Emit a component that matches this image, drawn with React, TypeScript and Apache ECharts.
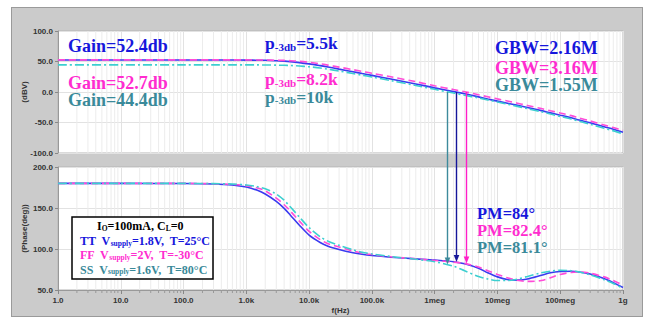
import React, { useEffect, useRef } from 'react';
import * as echarts from 'echarts';

// ---------------- data ----------------
const freqHz = [1, 10, 100, 300, 600, 1e3, 1.5e3, 2e3, 3e3, 4e3, 5e3, 7e3, 1e4, 1.5e4, 2e4, 3e4, 5e4, 7e4, 1e5, 2e5, 5e5, 1e6, 2e6, 3e6, 5e6, 7e6, 1e7, 1.5e7, 2e7, 3e7, 5e7, 7e7, 1e8, 1.5e8, 2e8, 3e8, 5e8, 7e8, 1e9];

const gainTT = [52.4, 52.4, 52.4, 52.4, 52.4, 52.3, 52.1, 52.0, 51.3, 50.6, 49.8, 48.2, 46.1, 43.2, 41.0, 37.5, 33.2, 30.3, 27.3, 21.3, 13.2, 6.8, 0.6, -3.0, -8.0, -11.5, -15.0, -18.8, -21.5, -25.3, -30.5, -34.2, -38.0, -42.2, -46.0, -50.5, -57.0, -61.0, -66.0];
const gainFF = [52.7, 52.7, 52.7, 52.7, 52.7, 52.6, 52.5, 52.4, 52.1, 51.8, 51.3, 50.3, 48.7, 46.3, 44.1, 40.8, 36.6, 33.7, 30.8, 24.9, 16.9, 10.2, 4.0, 0.5, -4.5, -7.8, -11.3, -15.2, -18.0, -22.0, -27.2, -30.8, -34.5, -38.7, -42.5, -47.5, -54.0, -58.3, -63.0];
const gainSS = [44.4, 44.4, 44.4, 44.4, 44.4, 44.4, 44.4, 44.3, 44.0, 43.8, 43.4, 42.6, 41.3, 39.4, 37.4, 34.4, 30.3, 27.6, 24.6, 18.7, 10.8, 4.4, -1.7, -5.3, -9.8, -13.0, -16.5, -20.3, -23.2, -27.3, -32.5, -36.2, -40.0, -44.3, -48.0, -53.0, -59.5, -63.7, -68.5];

const phaseTT = [180, 180, 179.8, 179.3, 178, 175.5, 171.5, 167, 158, 149.5, 141.5, 129, 117, 108, 103.5, 99.5, 95.5, 93.5, 92, 90, 88, 86.5, 84.5, 82, 76.5, 71, 66, 62.5, 62, 63.5, 68, 71, 72.5, 72.8, 72, 69.5, 64, 59, 53];
const phaseFF = [180, 180, 180, 179.6, 178.8, 177.3, 174.5, 171, 162, 154, 146.5, 134, 121.5, 111.5, 106.5, 102.5, 97.5, 95, 93.2, 90.5, 88, 86, 84, 82.5, 78, 73.5, 69, 64.5, 62, 60.5, 61.5, 65, 69, 71.5, 72, 70.5, 66, 61.5, 56];
const phaseSS = [180, 180, 180, 179.7, 179.2, 178, 176, 173.5, 167, 159.5, 151.5, 139, 126, 115, 109.5, 104.5, 99, 96, 94, 90.8, 87.5, 84.5, 79, 73.5, 66.5, 63.5, 61.5, 61.5, 63, 66.5, 71, 73, 74, 73.5, 72, 68.5, 62.5, 58, 52];

const xTickLabels = ['1.0', '10.0', '100.0', '1.0k', '10.0k', '100.0k', '1meg', '10meg', '100meg', '1g'];

const corners = ['TT', 'FF', 'SS'];
const gbwHz = [2.16e6, 3.16e6, 1.55e6];
const gbwText = ['2.16M', '3.16M', '1.55M'];
const pmDeg = [84, 82.4, 81.1];
const pmText = ['84°', '82.4°', '81.1°'];
const gainText = ['52.4db', '52.7db', '44.4db'];
const p3dbText = ['5.5k', '8.2k', '10k'];
const supplyText = ['1.8V', '2V', '1.6V'];
const tempText = ['25°C', '-30°C', '80°C'];

// ---------------- styles ----------------
const textColors = ['#1616dc', '#ff2ccf', '#3a8a9a'];
const curveColors = ['#3a3af0', '#ff4cd8', '#3ccfd0'];
const arrowColors = ['#16169a', '#ff1ec8', '#3d8a9c'];
const lineTypes: any[] = ['solid', [7, 4], [9, 3, 2, 3]];

const SERIF = '"Liberation Serif", "Times New Roman", serif';
const SANS = '"Liberation Sans", Arial, sans-serif';

export default function App() {
  const ref = useRef<HTMLDivElement>(null);

  useEffect(() => {
    document.body.style.margin = '0';
    const chart = echarts.init(ref.current as HTMLDivElement, null, { renderer: 'svg', width: 646, height: 322 });

    const axisLabelStyle = { fontSize: 8, fontWeight: 'bold', color: '#333', fontFamily: SANS };
    const gridLine = { show: true, lineStyle: { color: '#e2e2e2', width: 1 } };

    const series: any[] = [];
    [gainTT, gainFF, gainSS].forEach((ys, i) => {
      series.push({
        name: 'gain ' + corners[i], type: 'line', xAxisIndex: 0, yAxisIndex: 0,
        data: freqHz.map((f, k) => [f, ys[k]]),
        showSymbol: false, symbol: 'none', smooth: 0.3, silent: true, z: 3,
        lineStyle: { color: curveColors[i], width: 1.6, type: lineTypes[i] },
      });
    });
    [phaseTT, phaseFF, phaseSS].forEach((ys, i) => {
      series.push({
        name: 'phase ' + corners[i], type: 'line', xAxisIndex: 1, yAxisIndex: 1,
        data: freqHz.map((f, k) => [f, ys[k]]),
        showSymbol: false, symbol: 'none', smooth: 0.3, silent: true, z: 3,
        lineStyle: { color: curveColors[i], width: 1.6, type: lineTypes[i] },
      });
    });

    const nameStyle = { fontSize: 8, fontWeight: 'bold', color: '#333', fontFamily: SANS };
    const option: any = {
      animation: false,
      textStyle: { fontFamily: SANS },
      grid: [
        { left: 58, top: 31, width: 565, height: 122, show: true, backgroundColor: '#fff', borderColor: '#b4b4b4', borderWidth: 1 },
        { left: 58, top: 167, width: 565, height: 123, show: true, backgroundColor: '#fff', borderColor: '#b4b4b4', borderWidth: 1 },
      ],
      xAxis: [
        {
          type: 'log', logBase: 10, gridIndex: 0, min: 1, max: 1e9, splitNumber: 9,
          axisLabel: { show: false }, axisTick: { show: false }, axisLine: { show: false }, splitLine: gridLine,
        },
        {
          type: 'log', logBase: 10, gridIndex: 1, min: 1, max: 1e9, splitNumber: 9,
          axisLabel: {
            ...axisLabelStyle, margin: 6,
            formatter: (v: number) => xTickLabels[Math.round(Math.log10(v))] ?? '',
          },
          axisTick: { show: true, length: 4, lineStyle: { color: '#888' } },
          axisLine: { show: true, lineStyle: { color: '#999' } },
          splitLine: gridLine,
          name: 'f(Hz)', nameLocation: 'middle', nameGap: 16, nameMoveOverlap: false, nameTextStyle: nameStyle,
        },
      ],
      yAxis: [
        {
          type: 'value', gridIndex: 0, min: -100, max: 100, interval: 50,
          axisLabel: { ...axisLabelStyle, margin: 5, formatter: (v: number) => v.toFixed(1) },
          axisTick: { show: true, length: 3, lineStyle: { color: '#888' } },
          axisLine: { show: true, lineStyle: { color: '#999' } },
          splitLine: gridLine,
          name: '(dBV)', nameLocation: 'middle', nameGap: 30, nameMoveOverlap: false, nameTextStyle: nameStyle,
        },
        {
          type: 'value', gridIndex: 1, min: 50, max: 200, interval: 50,
          axisLabel: { ...axisLabelStyle, margin: 5, formatter: (v: number) => v.toFixed(1) },
          axisTick: { show: true, length: 3, lineStyle: { color: '#888' } },
          axisLine: { show: true, lineStyle: { color: '#999' } },
          splitLine: gridLine,
          name: '(Phase(deg))', nameLocation: 'middle', nameGap: 30, nameMoveOverlap: false, nameTextStyle: nameStyle,
        },
      ],
      series,
    };
    chart.setOption(option);

    const px = (f: number, v: number, gi: number) => chart.convertToPixel({ gridIndex: gi } as any, [f, v]) as number[];

    const graphics: any[] = [];
    // minor log grid lines & ticks
    for (let k = 0; k < 9; k++) {
      for (let m = 2; m <= 9; m++) {
        const f = m * Math.pow(10, k);
        const a0 = px(f, 100, 0), b0 = px(f, -100, 0);
        const a1 = px(f, 200, 1), b1 = px(f, 50, 1);
        graphics.push({ type: 'line', z: 1, silent: true, shape: { x1: a0[0], y1: a0[1], x2: b0[0], y2: b0[1] }, style: { stroke: '#ececec', lineWidth: 1 } });
        graphics.push({ type: 'line', z: 1, silent: true, shape: { x1: a1[0], y1: a1[1], x2: b1[0], y2: b1[1] }, style: { stroke: '#ececec', lineWidth: 1 } });
        graphics.push({ type: 'line', z: 1, silent: true, shape: { x1: b1[0], y1: b1[1], x2: b1[0], y2: b1[1] + 3 }, style: { stroke: '#999', lineWidth: 1 } });
      }
    }
    // arrows GBW -> PM
    corners.forEach((_, i) => {
      const top = px(gbwHz[i], 0, 0);
      const bot = px(gbwHz[i], pmDeg[i], 1);
      const x = Math.round(top[0]) + 0.5;
      graphics.push({ type: 'line', z: 8, silent: true, shape: { x1: x, y1: top[1], x2: x, y2: bot[1] - 5 }, style: { stroke: arrowColors[i], lineWidth: 1.4 } });
      graphics.push({ type: 'polygon', z: 8, silent: true, shape: { points: [[x - 2.8, bot[1] - 7], [x + 2.8, bot[1] - 7], [x, bot[1]]] }, style: { fill: arrowColors[i] } });
    });

    const big = (color: string, size = 18) => ({ fill: color, color, fontFamily: SERIF, fontWeight: 'bold', fontSize: size });
    const plain = (x: number, y: number, text: string, color: string, size = 18) => ({
      type: 'text', z: 20, silent: true, x, y,
      style: { text, ...big(color, size), lineHeight: 15, align: 'left', verticalAlign: 'middle' },
    });
    const gainY = [45.5, 82.5, 100];
    const pY = [44.5, 80.5, 98];
    const gbwY = [47.5, 67.5, 85];
    const pmY = [213.5, 230.5, 247];
    corners.forEach((_, i) => {
      const c = textColors[i];
      graphics.push(plain(68, gainY[i], 'Gain=' + gainText[i], c));
      graphics.push({
        type: 'text', z: 20, silent: true, x: 265, y: pY[i],
        style: {
          text: '{a|p}{b|-3db}{a|=' + p3dbText[i] + '}', align: 'left', verticalAlign: 'middle',
          rich: {
            a: { ...big(c, 17.5), lineHeight: 15, verticalAlign: 'bottom' },
            b: { fill: c, color: c, fontFamily: SERIF, fontWeight: 'bold', fontSize: 11, lineHeight: 9, verticalAlign: 'bottom' },
          },
        },
      });
      graphics.push(plain(495, gbwY[i], 'GBW=' + gbwText[i], c));
      graphics.push(plain(477, pmY[i], 'PM=' + pmText[i], c, 16.5));
    });

    // legend box
    graphics.push({ type: 'rect', z: 15, silent: true, shape: { x: 72, y: 217, width: 141, height: 62 }, style: { fill: '#fff', stroke: '#000', lineWidth: 1.5 } });
    const sm = (c: string) => ({ fill: c, color: c, fontFamily: SERIF, fontWeight: 'bold', fontSize: 12, lineHeight: 13, verticalAlign: 'bottom' });
    const sub = (c: string) => ({ fill: c, color: c, fontFamily: SERIF, fontWeight: 'bold', fontSize: 7.5, lineHeight: 8, verticalAlign: 'bottom' });
    graphics.push({
      type: 'text', z: 16, silent: true, x: 97, y: 225.5,
      style: { text: '{m|I}{s|O}{m|=100mA, C}{s|L}{m|=0}', align: 'left', verticalAlign: 'middle', rich: { m: sm('#000'), s: sub('#000') } },
    });
    const legY = [240.5, 254.5, 269];
    corners.forEach((cn, i) => {
      const c = textColors[i];
      graphics.push({
        type: 'text', z: 16, silent: true, x: 80, y: legY[i],
        style: {
          text: '{m|' + cn + '  V}{s|supply}{m|=' + supplyText[i] + ',  T=' + tempText[i] + '}',
          align: 'left', verticalAlign: 'middle', rich: { m: sm(c), s: sub(c) },
        },
      });
    });

    chart.setOption({ graphic: { elements: graphics } });

    return () => chart.dispose();
  }, []);

  return (
    <div style={{ position: 'relative', width: 646, height: 322, background: '#fff', overflow: 'hidden' }}>
      <div style={{ position: 'absolute', left: 11, top: 7, width: 632, height: 310, background: '#cbcbcb', border: '1px solid #9a9a9a', boxSizing: 'border-box' }} />
      <div ref={ref} style={{ position: 'absolute', left: 0, top: 0, width: 646, height: 322 }} />
    </div>
  );
}
